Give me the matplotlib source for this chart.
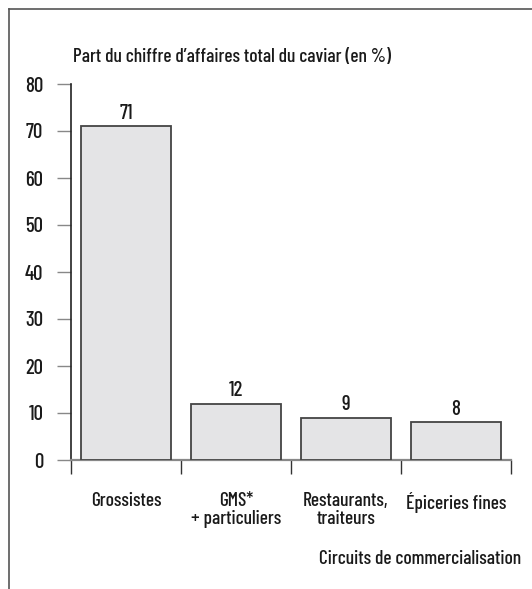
import matplotlib.pyplot as plt
from matplotlib.lines import Line2D
import numpy as np

# données
categories = ['Grossistes', 'GMS*\n+ particuliers', 'Restaurants,\ntraiteurs', 'Épiceries fines']
valeurs = [71, 12, 9, 8]
yticks = [0, 10, 20, 30, 40, 50, 60, 70, 80]

plt.rcParams['font.family'] = ['Barlow Condensed', 'Roboto Condensed', 'DejaVu Sans']
plt.rcParams['font.weight'] = 500
plt.rcParams['font.size'] = 14

fig = plt.figure(figsize=(5.32, 5.89), dpi=100)
W, H = 532, 589
ax = fig.add_axes([71 / W, 1 - 460 / H, 440 / W, (460 - 84) / H])

x = np.arange(len(categories))
ax.bar(x, valeurs, width=0.81, color='#e4e4e6', edgecolor='#444444', linewidth=1.3, zorder=3)
for xi, v in zip(x, valeurs):
    ax.text(xi, v + 2.8, str(v), ha='center', va='center', fontsize=15, color='#1a1a1a')

ax.set_xlim(-0.5, 3.5)
ax.set_ylim(0, 80)
ax.set_yticks(yticks)
ax.tick_params(axis='y', length=10, width=1, color='#888888', pad=10, labelsize=15, labelcolor='#1a1a1a')

ax.set_xticks([-0.5, 0.5, 1.5, 2.5, 3.5])
ax.set_xticklabels([])
ax.tick_params(axis='x', which='major', length=10, width=1, color='#333333')
ax.set_xticks(x, minor=True)
ax.set_xticklabels(categories, minor=True, fontsize=14, color='#1a1a1a', linespacing=1.0)
ax.tick_params(axis='x', which='minor', length=0, pad=23)

for s in ['top', 'right']:
    ax.spines[s].set_visible(False)
ax.spines['left'].set_color('#222222')
ax.spines['left'].set_linewidth(1.2)
ax.spines['bottom'].set_color('#888888')
ax.spines['bottom'].set_linewidth(1.6)

fig.text(73 / W, 1 - 57 / H, "Part du chiffre d\u2019affaires total du caviar (en %)",
         ha='left', va='center', fontsize=14, color='#1a1a1a')
fig.text(521 / W, 1 - 559 / H, 'Circuits de commercialisation',
         ha='right', va='center', fontsize=14, color='#1a1a1a')

# cadre
fig.add_artist(Line2D([9 / W, 9 / W], [0, 1 - 9 / H], color='#555555', linewidth=1.2))
fig.add_artist(Line2D([9 / W, 1], [1 - 9 / H, 1 - 9 / H], color='#555555', linewidth=1.2))

fig.savefig('out.png', dpi=100)
